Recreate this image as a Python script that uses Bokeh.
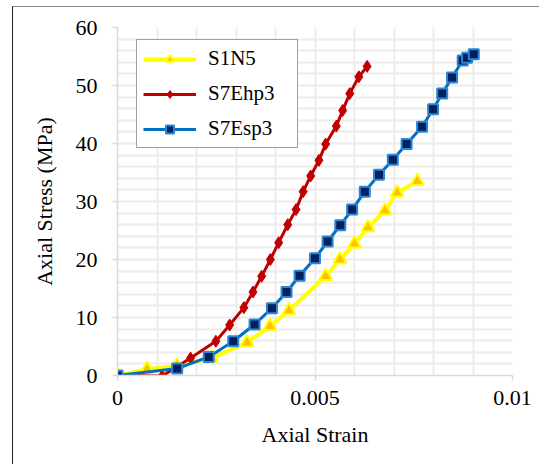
from bokeh.plotting import figure
from bokeh.models import Range1d, FixedTicker, NumeralTickFormatter, Title
from bokeh.embed import file_html
from bokeh.resources import INLINE

# ---- data ----
s1n5_strain = [0, 0.00075, 0.00150, 0.00238, 0.00328, 0.00386, 0.00434, 0.00527,
               0.00563, 0.00600, 0.00634, 0.00677, 0.00708, 0.00759]
s1n5_stress = [0, 1.1, 1.7, 3.0, 5.7, 8.5, 11.2, 17.1, 20.0, 22.7, 25.5, 28.4, 31.5, 33.5]

s7ehp3_strain = [0, 0.00113, 0.00185, 0.00249, 0.00284, 0.00320, 0.00343, 0.00365,
                 0.00387, 0.00408, 0.00431, 0.00452, 0.00470, 0.00489, 0.00510,
                 0.00527, 0.00554, 0.00570, 0.00588, 0.00611, 0.00632]
s7ehp3_stress = [0, -0.1, 3.0, 5.9, 8.7, 11.7, 14.4, 17.1, 20.0, 22.9, 26.0, 28.6,
                 31.7, 34.4, 37.1, 39.9, 43.0, 45.7, 48.6, 51.5, 53.3]

s7esp3_strain = [0, 0.00151, 0.00231, 0.00293, 0.00347, 0.00391, 0.00428, 0.00461,
                 0.00500, 0.00532, 0.00564, 0.00594, 0.00626, 0.00662, 0.00697,
                 0.00732, 0.00771, 0.00799, 0.00822, 0.00847, 0.00874, 0.00885, 0.00902]
s7esp3_stress = [0, 1.2, 3.2, 5.9, 8.8, 11.6, 14.4, 17.2, 20.2, 23.1, 25.9, 28.6,
                 31.7, 34.6, 37.2, 39.9, 42.9, 45.9, 48.6, 51.4, 54.3, 54.8, 55.4]

x_ticks = [0, 0.005, 0.01]
x_minor = [0.001, 0.002, 0.003, 0.004, 0.006, 0.007, 0.008, 0.009]
y_ticks = [0, 10, 20, 30, 40, 50, 60]
y_minor = [2, 4, 6, 8, 12, 14, 16, 18, 22, 24, 26, 28, 32, 34, 36, 38, 42, 44, 46, 48, 52, 54, 56, 58]

x_title = "Axial Strain"
y_title = "Axial Stress (MPa)"

FONT = "Liberation Serif"

p = figure(width=527, height=458, x_range=Range1d(0, 0.01), y_range=Range1d(0, 60),
           output_backend="svg", toolbar_location=None,
           min_border_left=104, min_border_right=28, min_border_top=20, min_border_bottom=90)
p.margin = (6, 0, 0, 12)
p.styles = {"border-left": "1px solid #222222", "border-top": "1px solid #888888"}
p.outline_line_color = None
p.background_fill_color = "white"
p.border_fill_color = "white"

# axes
p.xaxis.ticker = FixedTicker(ticks=x_ticks, minor_ticks=x_minor)
p.yaxis.ticker = FixedTicker(ticks=y_ticks, minor_ticks=y_minor)
p.xaxis.formatter = NumeralTickFormatter(format="0.[000]")
for ax in (p.xaxis[0], p.yaxis[0]):
    ax.axis_line_color = "#d9d9d9"
    ax.axis_line_width = 1.5
    ax.major_tick_line_color = "#d9d9d9"
    ax.major_tick_line_width = 1.5
    ax.major_tick_out = 5
    ax.major_tick_in = 0
    ax.minor_tick_out = 0
    ax.minor_tick_in = 0
    ax.major_label_text_font = FONT
    ax.major_label_text_font_size = "22px"
    ax.major_label_text_font_style = "normal"
    ax.major_label_text_color = "black"
p.yaxis[0].major_label_standoff = 15
p.xaxis[0].major_label_standoff = 10

for g in (p.xgrid[0], p.ygrid[0]):
    g.grid_line_color = "#ececec"
    g.grid_line_width = 2
    g.minor_grid_line_color = "#ececec"
    g.minor_grid_line_width = 2

# series
p.line(s1n5_strain, s1n5_stress, line_color="#FFFF00", line_width=4, legend_label="S1N5")
p.scatter(s1n5_strain, s1n5_stress, marker="triangle", size=13, fill_color="#FFC000",
          line_color="#FFFF00", line_width=2, legend_label="S1N5")

p.line(s7ehp3_strain, s7ehp3_stress, line_color="#C00000", line_width=3, legend_label="S7Ehp3")
p.scatter(s7ehp3_strain, s7ehp3_stress, marker="diamond", size=12, fill_color="#C00000",
          line_color="#C00000", line_width=1, legend_label="S7Ehp3")

p.line(s7esp3_strain, s7esp3_stress, line_color="#0070C0", line_width=3, legend_label="S7Esp3")
p.scatter(s7esp3_strain, s7esp3_stress, marker="square", size=10, fill_color="#002060",
          line_color="#2E86D0", line_width=2, legend_label="S7Esp3")

# legend
lg = p.legend[0]
lg.location = (19, 227)
lg.padding = 6
lg.spacing = 10
lg.margin = 0
lg.glyph_width = 53
lg.glyph_height = 20
lg.label_height = 20
lg.label_width = 83
lg.label_standoff = 12
lg.label_text_font = FONT
lg.label_text_font_size = "21px"
lg.label_text_color = "black"
lg.border_line_color = "#404040"
lg.border_line_width = 1
lg.background_fill_color = "white"
lg.background_fill_alpha = 1.0

# axis titles
p.add_layout(Title(text=x_title, align="center", offset=-18, standoff=25,
                   text_font=FONT, text_font_size="22px", text_font_style="normal",
                   text_color="black"), "below")
p.add_layout(Title(text=y_title, align="center", offset=0, standoff=32,
                   text_font=FONT, text_font_size="22px", text_font_style="normal",
                   text_color="black"), "left")

open("out.html", "w").write(file_html(p, INLINE))
